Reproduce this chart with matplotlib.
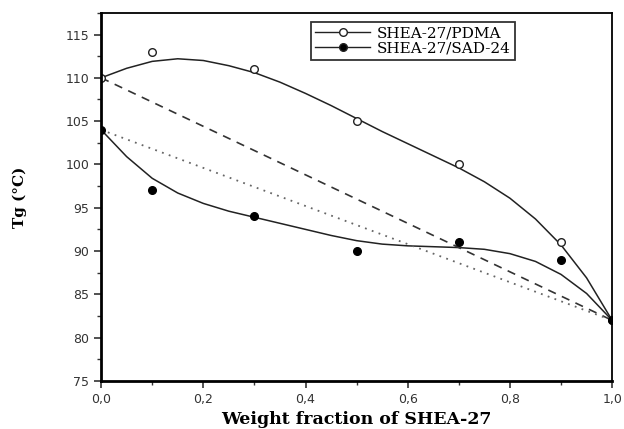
import numpy as np
import matplotlib
matplotlib.use("Agg")
import matplotlib.pyplot as plt
from matplotlib.ticker import MultipleLocator, FuncFormatter

w = [0.0, 0.1, 0.3, 0.5, 0.7, 0.9, 1.0]
tg_pdma = [110, 113, 111, 105, 100, 91, 82]
tg_sad = [104, 97, 94, 90, 91, 89, 82]

# fitted curves, every 0.05
w_fit = [0.00, 0.05, 0.10, 0.15, 0.20, 0.25, 0.30, 0.35, 0.40, 0.45, 0.50,
         0.55, 0.60, 0.65, 0.70, 0.75, 0.80, 0.85, 0.90, 0.95, 1.00]
fit_pdma = [110.0, 111.1, 111.9, 112.2, 112.0, 111.4, 110.6, 109.5, 108.2, 106.8, 105.3,
            103.8, 102.4, 101.0, 99.6, 98.0, 96.1, 93.7, 90.7, 86.9, 82.0]
fit_sad = [104.0, 100.9, 98.4, 96.7, 95.5, 94.6, 93.9, 93.2, 92.5, 91.8, 91.2,
           90.8, 90.6, 90.5, 90.4, 90.2, 89.7, 88.8, 87.3, 85.1, 82.0]

fig = plt.figure(figsize=(6.24, 4.29), dpi=100)
ax = fig.add_axes([0.162, 0.112, 0.819, 0.858])

ax.plot(w_fit, fit_pdma, color='#222222', lw=1.1)
ax.plot(w_fit, fit_sad, color='#222222', lw=1.1)

# additivity lines between the pure components
ax.plot([w[0], w[-1]], [tg_pdma[0], tg_pdma[-1]], ls=(0, (5, 4)), color='#333333', lw=1.2)
ax.plot([w[0], w[-1]], [tg_sad[0], tg_sad[-1]], ls=(0, (1, 3)), color='#666666', lw=1.3)

ax.plot(w, tg_pdma, 'o', mfc='white', mec='#222222', ms=5.5, mew=1)
ax.plot(w, tg_sad, 'o', color='black', ms=5.5)

h1, = ax.plot([], [], '-o', color='#222222', mfc='white', ms=5.5, lw=1, label='SHEA-27/PDMA')
h2, = ax.plot([], [], '-o', color='#222222', mfc='black', ms=5.5, lw=1, label='SHEA-27/SAD-24')
leg = ax.legend(handles=[h1, h2], loc='upper left', bbox_to_anchor=(0.41, 0.976),
                frameon=True, fancybox=False, edgecolor='black', borderpad=0.3,
                handlelength=3.6, labelspacing=0.05, handletextpad=0.4, borderaxespad=0,
                prop={'family': 'DejaVu Serif', 'size': 11})
leg.get_frame().set_linewidth(1.3)

ax.set_xlim(0, 1)
ax.set_ylim(75, 117.5)
ax.xaxis.set_major_locator(MultipleLocator(0.2))
ax.xaxis.set_minor_locator(MultipleLocator(0.1))
ax.yaxis.set_major_locator(MultipleLocator(5))
ax.yaxis.set_minor_locator(MultipleLocator(2.5))
ax.xaxis.set_major_formatter(FuncFormatter(lambda v, p: f"{v:.1f}".replace('.', ',')))
ax.tick_params(which='both', direction='out', top=False, right=False, labelsize=9, colors='#333333')
ax.tick_params(which='major', length=5, width=1.2)
ax.tick_params(which='minor', length=3, width=1)
for s in ax.spines.values():
    s.set_linewidth(1.3)
ax.spines['left'].set_linewidth(2)
ax.spines['bottom'].set_linewidth(2)

ax.set_xlabel('Weight fraction of SHEA-27', family='DejaVu Serif', weight='bold', fontsize=12.5)
ax.set_ylabel('Tg (°C)', family='DejaVu Serif', weight='bold', fontsize=11, labelpad=28)

fig.savefig('out.png', dpi=100)
